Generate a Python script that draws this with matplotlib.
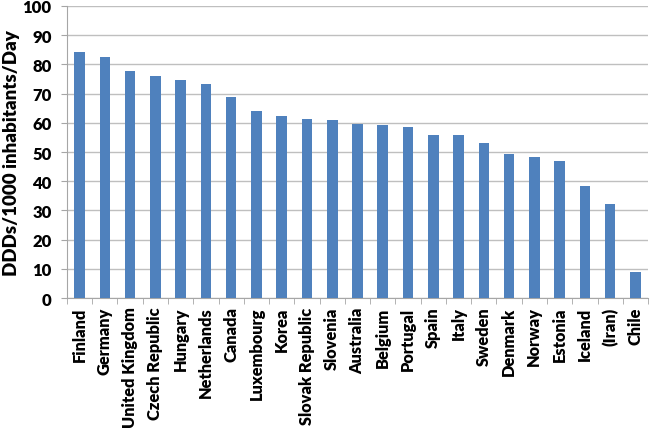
import numpy as np
import matplotlib
matplotlib.use("Agg")
import matplotlib.pyplot as plt

countries = ["Finland", "Germany", "United Kingdom", "Czech Republic", "Hungary",
             "Netherlands", "Canada", "Luxembourg", "Korea", "Slovak Republic",
             "Slovenia", "Australia", "Belgium", "Portugal", "Spain", "Italy",
             "Sweden", "Denmark", "Norway", "Estonia", "Iceland", "(Iran)", "Chile"]
ddds = [84.1, 82.5, 77.7, 76.1, 74.5, 73.4, 68.9, 63.9, 62.2, 61.3,
        61.0, 59.7, 59.2, 58.6, 55.9, 55.8, 53.0, 49.3, 48.3, 47.0,
        38.4, 32.2, 8.8]
yticks = list(range(0, 101, 10))

BAR, GRID, AXIS = "#4F81BD", "#BFBFBF", "#A6A6A6"
plt.rcParams["font.family"] = ["Lato", "DejaVu Sans"]
W = 800  # Lato ExtraBold stands in for Calibri Bold

fig = plt.figure(figsize=(6.5, 4.31), dpi=100)
ax = fig.add_axes([0.103, 0.306, 0.894, 0.678])

x = np.arange(len(countries))
ax.bar(x, ddds, width=0.42, color=BAR, zorder=3)

ax.set_xlim(-0.5, len(countries) - 0.5)
ax.set_ylim(0, 100)
ax.set_yticks(yticks)
ax.set_yticklabels([str(t) for t in yticks], fontsize=12, fontweight=W)
ax.set_xticks(x)
ax.set_xticklabels(countries, rotation=90, fontsize=11.8, fontweight=W)
ax.tick_params(axis="x", length=0, pad=6)
ax.tick_params(axis="y", length=4, color=AXIS, pad=7)
# category boundary ticks
ax.set_xticks(np.arange(-0.5, len(countries) + 0.5, 1), minor=True)
ax.tick_params(axis="x", which="minor", length=4, color=AXIS)

ax.grid(axis="y", color=GRID, lw=1, zorder=0)
for s in ["top", "right"]:
    ax.spines[s].set_visible(False)
ax.spines["left"].set_color(AXIS)
ax.spines["bottom"].set_color(AXIS)

ax.set_ylabel("DDDs/1000 inhabitants/Day", fontsize=13.5, fontweight=W, labelpad=2)

fig.savefig("out.png", dpi=100)
